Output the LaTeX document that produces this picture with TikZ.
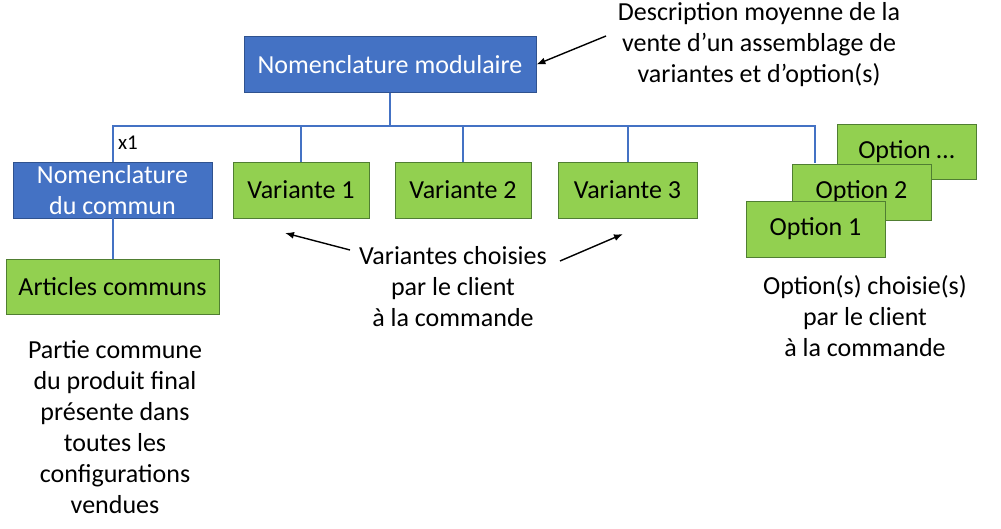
\documentclass[tikz,border=0pt]{standalone}
\usepackage{fontspec}
\setmainfont{Carlito}
\usepackage{tikz}
\usetikzlibrary{arrows.meta,calc,positioning}
\definecolor{nomblue}{HTML}{4472C4}
\definecolor{nomedge}{HTML}{2F528F}
\definecolor{leaf}{HTML}{92D050}
\definecolor{leafedge}{HTML}{507E32}
\tikzset{nombox/.style={draw=nomedge,fill=nomblue,line width=.8pt,text=white,align=center,inner sep=0pt,minimum height=56pt,font=\fontsize{26}{31}\selectfont},leafbox/.style={draw=leafedge,fill=leaf,line width=.8pt,text=black,align=center,inner sep=0pt,minimum height=56pt,minimum width=139pt,font=\fontsize{26}{31}\selectfont},treeline/.style={draw=nomblue,line width=2pt},pointer/.style={draw=black,line width=1.4pt,-{Latex[length=9pt,width=7pt]}},note/.style={align=center,inner sep=0pt,font=\fontsize{26}{31}\selectfont}}

\begin{document}
\begin{tikzpicture}[x=1pt,y=-1pt]
\useasboundingbox (0,0) rectangle (1001,529);
\node[nombox,minimum width=292pt] (top) at (390,64.5) {Nomenclature modulaire};
\node[nombox,minimum width=199pt] (commun) at (112.5,190) {Nomenclature\\du commun};
\node[leafbox,minimum width=136pt] (var1) at (301,190) {Variante 1};
\node[leafbox,minimum width=136pt] (var2) at (463,190) {Variante 2};
\node[leafbox] (var3) at (627.5,190) {Variante 3};
\node[leafbox,minimum width=213pt,minimum height=55pt] (articles) at (112.5,286.5) {Articles communs};
\coordinate (bus) at (390,126);
\coordinate (optdrop) at (815,163);
% tree
\draw[treeline] (top.south) -- (bus);
\draw[treeline] (bus) -| (commun.north);
\draw[treeline] (bus) -| (var1.north);
\draw[treeline] (bus) -| (var2.north);
\draw[treeline] (bus) -| (var3.north);
\draw[treeline] (bus) -| (optdrop);
\draw[treeline] (commun.south) -- (articles.north);
\node[font=\fontsize{21}{25}\selectfont,inner sep=0pt] (mult) at (128,143) {x1};
% options
\node[leafbox,minimum height=55pt] (optn) at (906.5,151.5) {Option \dots};
\node[leafbox] (opt2) at (861.5,192) {Option 2};
\node[leafbox] (opt1) at (815.5,229) {Option 1};
% notes
\node[note] (desc) at (759,45) {Description moyenne de la\\vente d’un assemblage de\\variantes et d’option(s)};
\node[note] (choix) at (453,287) {Variantes choisies\\par le client\\à la commande};
\node[note] (optchoix) at (865,316) {Option(s) choisie(s)\\par le client\\à la commande};
\node[note] (partie) at (115,427.5) {Partie commune\\du produit final\\présente dans\\toutes les\\configurations\\vendues};
\coordinate (descarrow) at (606,36);
\coordinate (leftfrom) at (350,250);
\coordinate (leftto) at (285,233);
\coordinate (rightfrom) at (560,261);
\coordinate (rightto) at (623,234);
\draw[pointer] (descarrow) -- (top.east);
\draw[pointer] (leftfrom) -- (leftto);
\draw[pointer] (rightfrom) -- (rightto);
\end{tikzpicture}
\end{document}
